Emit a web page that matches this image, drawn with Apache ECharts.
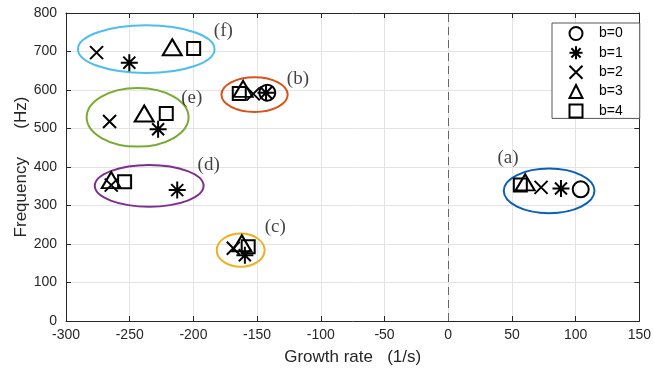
<!DOCTYPE html>
<html><head><meta charset="utf-8">
<script src="https://cdn.jsdelivr.net/npm/echarts@6/dist/echarts.min.js"></script>
<style>html,body{margin:0;padding:0;background:#fff}#c{width:654px;height:372px}</style>
</head><body><div id="c"></div>
<script>
// Data: [growth rate (1/s), frequency (Hz)]
const b0 = [[104, 342], [-142, 593]];
const b1 = [[88.5, 344], [-143, 593], [-159.6, 171], [-212.7, 340], [-227.7, 498], [-250.3, 671]];
const b2 = [[72.9, 347], [-153, 590], [-168.7, 189], [-264.5, 353], [-265.8, 518], [-276, 697]];
const b3 = [[60.4, 360], [-161, 603], [-162, 202], [-264.5, 366], [-238.6, 539], [-216.6, 711]];
const b4 = [[56.6, 353], [-164, 591], [-157, 193], [-254, 362], [-221.3, 539], [-199.8, 708]];
// Cluster ellipses: [centre x, centre y, semi-axis x, semi-axis y] in data units
const ellipses = [[79.2, 338, 35.6, 58], [-152, 588, 26, 45], [-162.9, 184, 18.8, 43],
                  [-234.7, 351, 42.7, 54], [-243.8, 529, 40, 76], [-237, 706, 53.6, 62]];
const clusterNames = ['(a)', '(b)', '(c)', '(d)', '(e)', '(f)'];
const clusterLabelAt = [[46.9, 423], [-118, 629], [-135.7, 243], [-188, 406], [-201.3, 579], [-176.5, 753]];
const xTicks = {min: -300, max: 150, interval: 50};
const yTicks = {min: 0, max: 800, interval: 100};

const ellipseColors = ['#0a5fb8', '#D95319', '#EDB120', '#7E2F8E', '#77AC30', '#4DBEEE'];
const ink = '#262626';
const asterisk = 'path://M0 -10 L0 10 M-10 0 L10 0 M-7.07 -7.07 L7.07 7.07 M-7.07 7.07 L7.07 -7.07';
const cross = 'path://M-10 -10 L10 10 M-10 10 L10 -10';

function markerSeries(name, data, symbol, size) {
  return {
    type: 'scatter', name, data, symbol, symbolSize: size, z: 5,
    itemStyle: {color: 'rgba(0,0,0,0)', borderColor: '#000', borderWidth: 2, opacity: 1}
  };
}

const chart = echarts.init(document.getElementById('c'), null, {renderer: 'canvas'});
const axisCommon = {
  type: 'value',
  axisLine: {show: true, onZero: false, lineStyle: {color: ink, width: 1}},
  axisTick: {show: true, inside: true, length: 5, lineStyle: {color: ink}},
};
chart.setOption({
  animation: false,
  grid: {left: 66, right: 10, top: 13, bottom: 51, containLabel: false},
  legend: {
    data: ['b=0', 'b=1', 'b=2', 'b=3', 'b=4'],
    orient: 'vertical', left: 552, top: 23,
    itemWidth: 13, itemHeight: 13, itemGap: 4.35,
    padding: [3, 17, 0, 16.5],
    backgroundColor: '#fff', borderColor: '#555', borderWidth: 1,
    textStyle: {fontFamily: 'Liberation Sans', fontSize: 14, lineHeight: 14, color: '#000', padding: [0, 0, 0, 11.5]}
  },
  xAxis: [
    Object.assign({}, axisCommon, xTicks, {
      position: 'bottom',
      axisLabel: {color: ink, fontSize: 14, fontFamily: 'Liberation Sans', margin: 7},
      splitLine: {show: true, lineStyle: {color: '#e3e3e3'}},
      name: 'Growth rate   (1/s)', nameLocation: 'middle', nameGap: 27.5, nameMoveOverlap: false,
      nameTextStyle: {color: ink, fontSize: 17, fontFamily: 'Liberation Sans'}
    }),
    Object.assign({}, axisCommon, xTicks, {
      position: 'top', axisLabel: {show: false}, splitLine: {show: false}
    })
  ],
  yAxis: [
    Object.assign({}, axisCommon, yTicks, {
      position: 'left',
      axisLabel: {color: ink, fontSize: 14, fontFamily: 'Liberation Sans', margin: 9},
      splitLine: {show: true, lineStyle: {color: '#e3e3e3'}},
      name: 'Frequency      (Hz)', nameLocation: 'middle', nameGap: 36, nameMoveOverlap: false,
      nameTextStyle: {color: ink, fontSize: 17, fontFamily: 'Liberation Sans'}
    }),
    Object.assign({}, axisCommon, yTicks, {
      position: 'right', axisLabel: {show: false}, splitLine: {show: false}
    })
  ],
  series: [
    {
      type: 'custom', name: 'clusters', data: ellipses, z: 3, silent: true,
      renderItem: function (params, api) {
        const c = api.coord([api.value(0), api.value(1)]);
        const s = api.size([api.value(2), api.value(3)]);
        return {
          type: 'ellipse',
          shape: {cx: c[0], cy: c[1], rx: s[0], ry: s[1]},
          style: {fill: 'none', stroke: ellipseColors[params.dataIndex], lineWidth: 2}
        };
      }
    },
    {
      type: 'scatter', name: 'labels', silent: true, symbolSize: 0, z: 4,
      data: clusterLabelAt.map((p, i) => ({value: p, name: clusterNames[i]})),
      label: {show: true, position: 'inside', formatter: '{b}', color: '#111',
               fontFamily: 'Liberation Serif', fontSize: 19}
    },
    Object.assign(markerSeries('b=0', b0, 'circle', 16), {
      markLine: {
        silent: true, symbol: 'none', label: {show: false},
        lineStyle: {type: [8, 5], color: '#666', width: 1},
        data: [{xAxis: 0}]
      }
    }),
    markerSeries('b=1', b1, asterisk, 17),
    markerSeries('b=2', b2, cross, 13),
    markerSeries('b=3', b3, 'triangle', [19, 16]),
    markerSeries('b=4', b4, 'rect', 13)
  ]
});
</script>
</body></html>
